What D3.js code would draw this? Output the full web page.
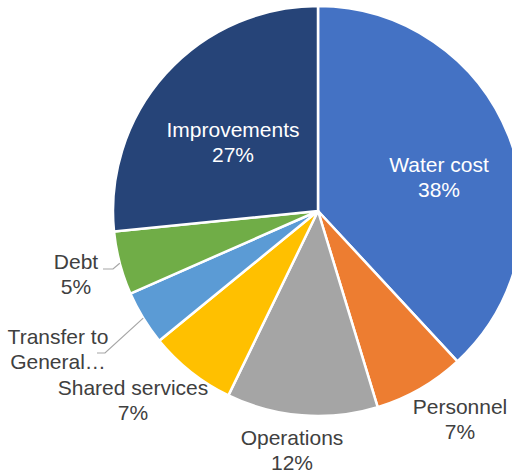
<!DOCTYPE html>
<html>
<head>
<meta charset="utf-8">
<script src="https://cdn.jsdelivr.net/npm/d3@7"></script>
<style>
  body { margin: 0; background: #fff; }
  svg text { font-family: "Liberation Sans", Arial, sans-serif; font-size: 21px; }
</style>
</head>
<body>
<svg id="chart" width="512" height="475"></svg>
<script>
// data
const categories = ["Water cost", "Personnel", "Operations", "Shared services", "Transfer to General Fund", "Debt", "Improvements"]
const values = [38.1, 7.2, 11.9, 6.9, 4.3, 5.0, 26.6]
const colors = ["#4472C4", "#ED7D31", "#A5A5A5", "#FFC000", "#5B9BD5", "#70AD47", "#264478"]
// the transfer label is cut off in the original, its percent never shows
const labelLines = [["Water cost"], ["Personnel"], ["Operations"], ["Shared services"], ["Transfer to", "General\u2026"], ["Debt"], ["Improvements"]]
const showPercent = [true, true, true, true, false, true, true]

// layout
const cx = 318, cy = 211, radius = 205
const lineH = 25
// label anchor (first baseline) per slice, and whether it is inside the slice
const labelAt = [
    {x: 439, y: 172, inside: true},
    {x: 460, y: 414},
    {x: 292, y: 445},
    {x: 133, y: 395},
    {x: 58, y: 344, leader: [[97, 353], [105, 353]]},
    {x: 76, y: 269, leader: [[103, 269], [113, 269]]},
    {x: 233, y: 137, inside: true}
]

let svg = d3.select("#chart")
let g = svg.append("g").attr("transform", `translate(${cx},${cy})`)

let pie = d3.pie().sort(null).value(d => d)
let arcs = pie(values)
let arc = d3.arc().innerRadius(0).outerRadius(radius)
let edge = d3.arc().innerRadius(radius).outerRadius(radius)
let total = d3.sum(values)

g.selectAll(".slice")
    .data(arcs)
    .enter()
    .append("path")
    .attr("class", "slice")
    .attr("d", arc)
    .style("fill", (d, i) => colors[i])
    .style("stroke", "#fff")
    .style("stroke-width", 2.5)
    .style("stroke-linejoin", "round")

// leader lines to the edge of small slices
arcs.forEach(function(d, i) {
    let L = labelAt[i]
    if (!L.leader) return
    let c = edge.centroid(d)
    let pts = L.leader.concat([[c[0] + cx, c[1] + cy]])
    svg.append("path")
        .attr("d", d3.line()(pts))
        .style("fill", "none")
        .style("stroke", "#A6A6A6")
        .style("stroke-width", 1.2)
})

// labels
arcs.forEach(function(d, i) {
    let L = labelAt[i]
    let lines = labelLines[i].slice()
    if (showPercent[i]) lines.push(Math.round(d.data / total * 100) + "%")
    let t = svg.append("text")
        .attr("text-anchor", "middle")
        .style("fill", L.inside ? "#fff" : "#404040")
    lines.forEach(function(s, k) {
        t.append("tspan").attr("x", L.x).attr("y", L.y + k * lineH).text(s)
    })
})
</script>
</body>
</html>
